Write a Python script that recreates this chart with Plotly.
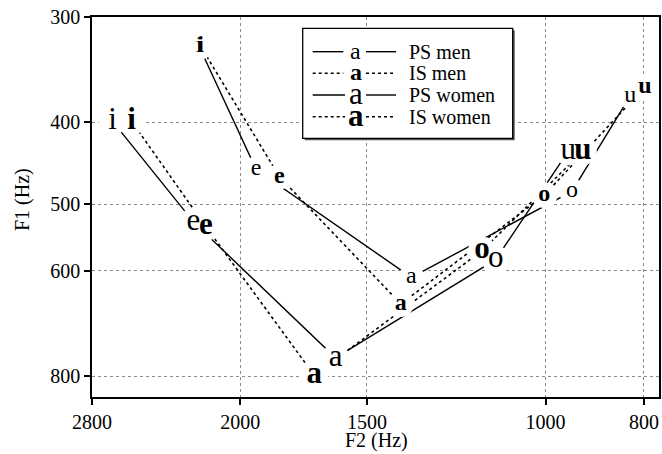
import math
import plotly.graph_objects as go

# ---------------- data ----------------
vowels = ["i", "e", "a", "o", "u"]

ps_men_f2 = [2196, 1929, 1356, 942, 825]
ps_men_f1 = [325, 455, 611, 483, 372]

is_men_f2 = [2188, 1830, 1389, 1003, 798]
is_men_f1 = [325, 464, 657, 488, 363]

ps_women_f2 = [2672, 2224, 1611, 1120, 950]
ps_women_f1 = [399, 525, 761, 582, 433]

is_women_f2 = [2559, 2162, 1691, 1155, 919]
is_women_f1 = [399, 532, 798, 568, 433]

series_names = ["PS men", "IS men", "PS women", "IS women"]
x_ticks = [2800, 2000, 1500, 1000, 800]
y_ticks = [300, 400, 500, 600, 800]

# ---------------- style ----------------
FONT = "Liberation Serif"
W, H = 662, 454
ML, MR, MT, MB = 92, 3, 17, 57

series = [
    (ps_men_f2, ps_men_f1, "solid", "normal", 24),
    (is_men_f2, is_men_f1, "dot", "bold", 24),
    (ps_women_f2, ps_women_f1, "solid", "normal", 31),
    (is_women_f2, is_women_f1, "dot", "bold", 31),
]

fig = go.Figure()

# connecting lines
for (f2, f1, dash, weight, size), name in zip(series, series_names):
    fig.add_trace(go.Scatter(
        x=f2, y=f1, mode="lines", name=name, showlegend=False,
        line=dict(color="black", width=1.4 if dash == "solid" else 1.6, dash=dash),
        hoverinfo="skip"))

# white masks around each vowel label (gap between line and letter)
for (f2, f1, dash, weight, size), name in zip(series, series_names):
    fig.add_trace(go.Scatter(
        x=f2, y=f1, mode="markers", showlegend=False,
        marker=dict(color="white", size=26 if size < 28 else 28, line=dict(width=0)),
        hoverinfo="skip"))

# vowel labels
for (f2, f1, dash, weight, size), name in zip(series, series_names):
    fig.add_trace(go.Scatter(
        x=f2, y=f1, mode="text", text=vowels, showlegend=False,
        textposition="middle center",
        textfont=dict(family=FONT, size=size, color="black", weight=weight),
        hoverinfo="skip"))


# ---------------- legend (manual, in paper coordinates) ----------------
def px(xp):
    return (xp - ML) / (W - ML - MR)


def py(yp):
    return (H - MB - yp) / (H - MT - MB)


box = (302.7, 28.3, 512.7, 138.3)
shapes = [
    dict(type="rect", xref="paper", yref="paper", layer="above",
         x0=px(box[0] + 2), x1=px(box[2] + 2), y0=py(box[3] + 2), y1=py(box[1] + 2),
         fillcolor="#555555", line=dict(width=0)),
    dict(type="rect", xref="paper", yref="paper", layer="above",
         x0=px(box[0]), x1=px(box[2]), y0=py(box[3]), y1=py(box[1]),
         fillcolor="white", line=dict(color="black", width=1.3)),
]
annotations = []
row_y = [51.7, 73.3, 95.0, 116.7]
for (f2, f1, dash, weight, size), name, ry in zip(series, series_names, row_y):
    big = size > 28
    segs = [(312.7, 345.0 if big else 343.3), (366.0, 396.0)]
    for a, b in segs:
        shapes.append(dict(type="line", xref="paper", yref="paper", layer="above",
                           x0=px(a), x1=px(b), y0=py(ry), y1=py(ry),
                           line=dict(color="black", width=1.4 if dash == "solid" else 1.6,
                                     dash=dash)))
    annotations.append(dict(xref="paper", yref="paper", x=px(355.5), y=py(ry - 1),
                            text="a", showarrow=False, xanchor="center", yanchor="middle",
                            font=dict(family=FONT, size=size, color="black", weight=weight)))
    annotations.append(dict(xref="paper", yref="paper", x=px(407), y=py(ry),
                            text=name, showarrow=False, xanchor="left", yanchor="middle",
                            font=dict(family=FONT, size=20, color="black")))

# axis titles
annotations.append(dict(xref="paper", yref="paper", x=px(376), y=py(440),
                        text="F2 (Hz)", showarrow=False, xanchor="center", yanchor="middle",
                        font=dict(family=FONT, size=20, color="black")))
annotations.append(dict(xref="paper", yref="paper", x=px(22), y=py(200),
                        text="F1 (Hz)", showarrow=False, xanchor="center", yanchor="middle",
                        textangle=-90,
                        font=dict(family=FONT, size=20, color="black")))

axis_common = dict(
    type="log", showgrid=True, gridcolor="#8a8a8a", gridwidth=1, griddash="dot",
    showline=True, linecolor="black", linewidth=1.5, mirror=True,
    ticks="outside", ticklen=6, tickwidth=1.5, tickcolor="black",
    tickfont=dict(family=FONT, size=20, color="black"), zeroline=False,
    automargin=False,
)

fig.update_layout(
    width=W, height=H,
    margin=dict(l=ML, r=MR, t=MT, b=MB),
    paper_bgcolor="white", plot_bgcolor="white",
    showlegend=False,
    shapes=shapes, annotations=annotations,
    xaxis=dict(axis_common, range=[math.log10(2800), math.log10(773)],
               tickvals=x_ticks, ticktext=[str(v) for v in x_ticks]),
    yaxis=dict(axis_common, range=[math.log10(847), math.log10(300)],
               tickvals=y_ticks, ticktext=[str(v) for v in y_ticks]),
)

fig.write_html(
    "out.html",
    config={"displayModeBar": False},
    post_script="document.body.style.margin='0';document.body.style.overflow='hidden';",
)
